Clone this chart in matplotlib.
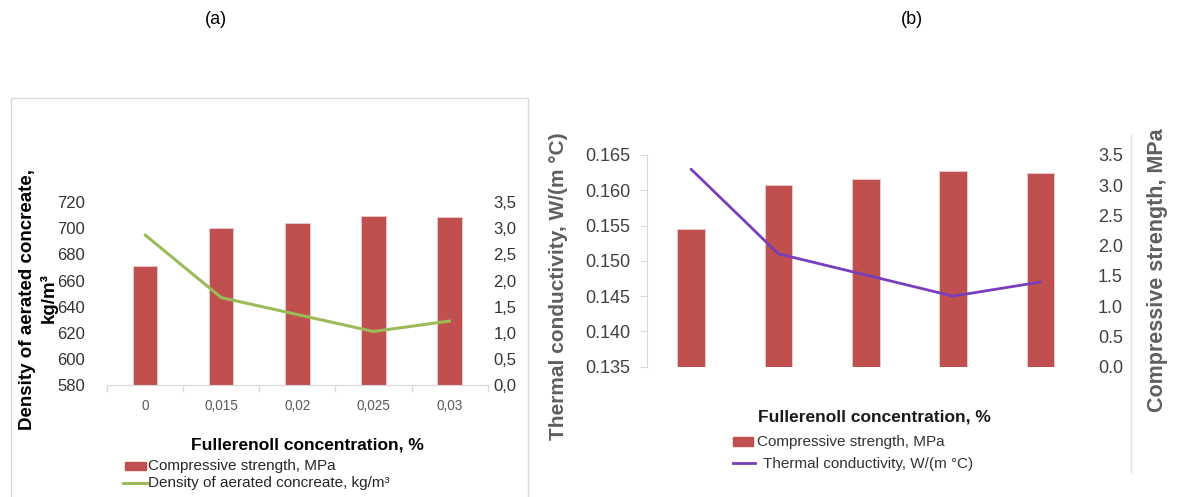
import matplotlib
matplotlib.use("Agg")
import matplotlib.pyplot as plt
from matplotlib import font_manager
from matplotlib.patches import Rectangle
from matplotlib.lines import Line2D

# ---- data ----
concentrations = ["0", "0,015", "0,02", "0,025", "0,03"]
compressive_mpa = [2.28, 3.01, 3.10, 3.24, 3.21]
density_kgm3 = [695, 647, 634, 621, 629]
thermal_w_mc = [0.163, 0.151, 0.148, 0.145, 0.147]

density_ticks = [580, 600, 620, 640, 660, 680, 700, 720]
strength_ticks_a = ["0,0", "0,5", "1,0", "1,5", "2,0", "2,5", "3,0", "3,5"]
strength_ticks_b = ["0.0", "0.5", "1.0", "1.5", "2.0", "2.5", "3.0", "3.5"]
thermal_ticks = [0.135, 0.140, 0.145, 0.150, 0.155, 0.160, 0.165]

BAR = "#C0504D"
GREEN = "#9BBB59"
PURPLE = "#7A3DBD"
GRID = "#D9D9D9"

installed = {f.name for f in font_manager.fontManager.ttflist}
SANS = "Liberation Sans" if "Liberation Sans" in installed else "DejaVu Sans"
plt.rcParams["font.family"] = [SANS, "DejaVu Sans"]

W, H = 1177, 497
fig = plt.figure(figsize=(W / 100, H / 100), dpi=100)


def fx(px):
    return px / W


def fy(py):
    return 1 - py / H


def axes_box(x0, y0, x1, y1):
    return [fx(x0), fy(y1), fx(x1) - fx(x0), fy(y0) - fy(y1)]


xs = list(range(len(concentrations)))

# ================= panel (a) =================
fig.text(fx(216), fy(20), "(a)", ha="center", va="center", fontsize=13)
fig.add_artist(Rectangle((fx(10.5), -0.02), fx(528) - fx(10.5), fy(97.5) + 0.02,
                         transform=fig.transFigure, fill=False,
                         edgecolor=GRID, linewidth=1.0))

axa = fig.add_axes(axes_box(107, 202.3, 487.7, 385))
axa2 = axa.twinx()

# compressive strength bars, read on the right-hand scale
axa.bar(xs, compressive_mpa, width=0.32, color=BAR, edgecolor="#EBC9C8",
        linewidth=0.7, zorder=2)
axa.set_xlim(-0.5, len(xs) - 0.5)
axa.set_ylim(0, 3.5)
axa.set_yticks([i * 0.5 for i in range(8)])
axa.set_yticklabels(strength_ticks_a)
axa.yaxis.tick_right()
axa.tick_params(axis="y", length=0, pad=4, labelsize=12, labelcolor="#333333")
axa.set_xticks(xs)
axa.set_xticklabels(concentrations)
axa.set_xticks([i - 0.5 for i in range(len(xs) + 1)], minor=True)
axa.tick_params(axis="x", which="major", length=0, pad=10, labelsize=9.8,
                labelcolor="#595959")
axa.tick_params(axis="x", which="minor", length=5, color=GRID, width=1)
for side in ("top", "left", "right"):
    axa.spines[side].set_visible(False)
axa.spines["bottom"].set_color(GRID)
axa.patch.set_visible(False)

# density line, read on the left-hand scale
axa2.plot(xs, density_kgm3, color=GREEN, linewidth=2.2, zorder=3,
          solid_capstyle="round")
axa2.set_ylim(580, 720)
axa2.set_yticks(density_ticks)
axa2.yaxis.tick_left()
axa2.tick_params(axis="y", length=0, pad=16, labelsize=12, labelcolor="#333333")
for side in ("top", "left", "right", "bottom"):
    axa2.spines[side].set_visible(False)

fig.text(fx(28), fy(300), "Density of aerated concreate,", rotation=90,
         ha="center", va="center", fontsize=13.5, fontweight="bold")
fig.text(fx(49), fy(298), "kg/m³", rotation=90,
         ha="center", va="center", fontsize=13.5, fontweight="bold")
fig.text(fx(307.5), fy(445), "Fullerenoll concentration, %", ha="center",
         va="center", fontsize=12.5, fontweight="bold")

# legend (a)
fig.add_artist(Rectangle((fx(125), fy(470)), fx(146) - fx(125), fy(462) - fy(470),
                         transform=fig.transFigure, color=BAR))
fig.text(fx(148), fy(466), "Compressive strength, MPa", ha="left", va="center",
         fontsize=11, color="#262626")
fig.add_artist(Line2D([fx(123), fx(147)], [fy(483.3), fy(483.3)],
                      transform=fig.transFigure, color=GREEN, linewidth=2.2))
fig.text(fx(148), fy(483.3), "Density of aerated concreate, kg/m³", ha="left",
         va="center", fontsize=11, color="#262626")

# ================= panel (b) =================
fig.text(fx(912), fy(20), "(b)", ha="center", va="center", fontsize=13)

axb = fig.add_axes(axes_box(647.3, 155, 1084.2, 366.7))
axb2 = axb.twinx()

axb.bar(xs, compressive_mpa, width=0.317, color=BAR, edgecolor="#EBC9C8",
        linewidth=0.7, zorder=2)
axb.set_xlim(-0.5, len(xs) - 0.5)
axb.set_ylim(0, 3.5)
axb.set_yticks([i * 0.5 for i in range(8)])
axb.set_yticklabels(strength_ticks_b)
axb.yaxis.tick_right()
axb.tick_params(axis="y", length=0, pad=10, labelsize=13, labelcolor="#404040")
axb.set_xticks([])
for side in ("top", "left", "right", "bottom"):
    axb.spines[side].set_visible(False)
axb.patch.set_visible(False)

axb2.plot(xs, thermal_w_mc, color=PURPLE, linewidth=2.0, zorder=3,
          solid_capstyle="round")
axb2.set_ylim(0.135, 0.165)
axb2.set_yticks(thermal_ticks)
axb2.set_yticklabels([f"{v:.3f}" for v in thermal_ticks])
axb2.yaxis.tick_left()
axb2.tick_params(axis="y", length=5, color=GRID, pad=7, labelsize=13,
                 labelcolor="#404040")
for side in ("top", "right", "bottom"):
    axb2.spines[side].set_visible(False)
axb2.spines["left"].set_visible(True)
axb2.spines["left"].set_color(GRID)

fig.add_artist(Line2D([fx(1130.7), fx(1130.7)], [fy(135), fy(473)],
                      transform=fig.transFigure, color="#E3E3E3", linewidth=1.0))

fig.text(fx(558), fy(286), "Thermal conductivity, W/(m °C)", rotation=90,
         ha="center", va="center", fontsize=15, fontweight="bold", color="#5F5F5F")
fig.text(fx(1158), fy(270), "Compressive strength, MPa", rotation=90,
         ha="center", va="center", fontsize=15.5, fontweight="bold", color="#5F5F5F")
fig.text(fx(874), fy(416.7), "Fullerenoll concentration, %", ha="center",
         va="center", fontsize=12.5, fontweight="bold", color="#1A1A1A")

# legend (b)
fig.add_artist(Rectangle((fx(733), fy(446)), fx(753) - fx(733), fy(437) - fy(446),
                         transform=fig.transFigure, color=BAR))
fig.text(fx(757), fy(441.7), "Compressive strength, MPa", ha="left", va="center",
         fontsize=11, color="#333333")
fig.add_artist(Line2D([fx(733), fx(755)], [fy(463.3), fy(463.3)],
                      transform=fig.transFigure, color=PURPLE, linewidth=2.0))
fig.text(fx(762.7), fy(464), "Thermal conductivity, W/(m °C)", ha="left",
         va="center", fontsize=11, color="#333333")

fig.savefig("out.png", dpi=100, facecolor="white")
